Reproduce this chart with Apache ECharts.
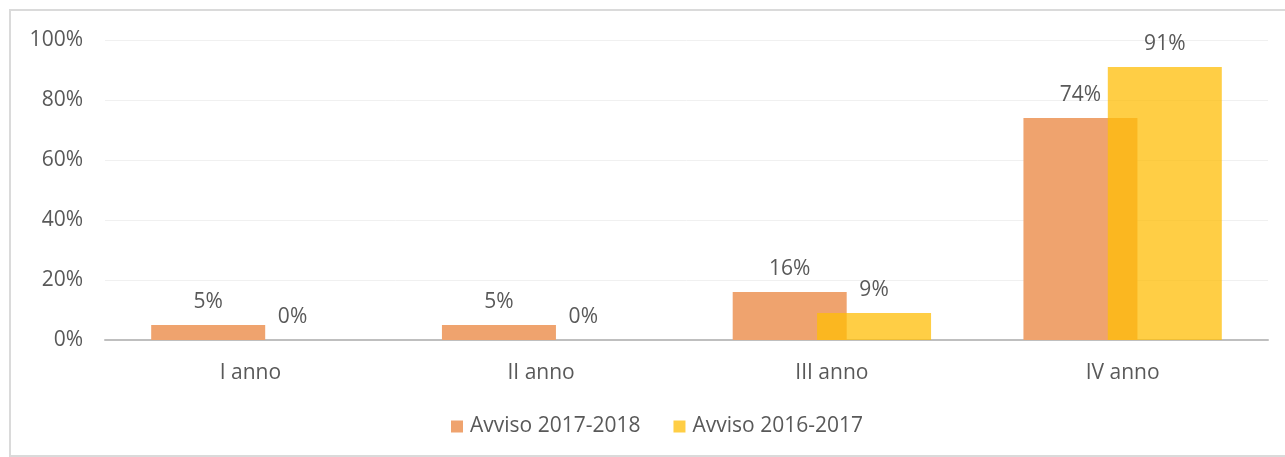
<!DOCTYPE html>
<html>
<head>
<meta charset="utf-8">
<script src="https://cdn.jsdelivr.net/npm/echarts@6/dist/echarts.min.js"></script>
<style>
  html, body { margin: 0; padding: 0; background: #ffffff; }
  #chart { position: absolute; left: 0; top: 0; width: 1285px; height: 457px; }
  #frame { position: absolute; left: 9px; top: 9px; width: 1300px; height: 444px;
           border: 2px solid #dadada; pointer-events: none; }
</style>
</head>
<body>
<div id="chart"></div>
<div id="frame"></div>
<script>
const categories = ['I anno', 'II anno', 'III anno', 'IV anno'];
const seriesNames = ['Avviso 2017-2018', 'Avviso 2016-2017'];
const avviso20172018 = [5, 5, 16, 74];
const avviso20162017 = [0, 0, 9, 91];
const yTicks = [0, 20, 40, 60, 80, 100];

const textColor = '#595959';
const fontFamily = '"Open Sans", "Noto Sans", sans-serif';
const fs = 21;

const chart = echarts.init(document.getElementById('chart'), null, { renderer: 'canvas' });
chart.setOption({
  animation: false,
  backgroundColor: '#ffffff',
  textStyle: { fontFamily: fontFamily },
  grid: { left: 105, right: 17, top: 40, bottom: 117, containLabel: false },
  legend: {
    data: seriesNames,
    left: 451,
    top: 416,
    padding: 0,
    itemWidth: 12,
    itemHeight: 12,
    itemGap: 33,
    icon: 'rect',
    textStyle: { color: textColor, fontSize: fs, fontFamily: fontFamily, padding: [0, 0, 0, 2] }
  },
  xAxis: {
    type: 'category',
    data: categories,
    axisTick: { show: false },
    axisLine: { lineStyle: { color: '#bfbfbf', width: 2 } },
    axisLabel: { color: textColor, fontSize: fs, margin: 23, fontFamily: fontFamily }
  },
  yAxis: {
    type: 'value',
    min: yTicks[0],
    max: yTicks[yTicks.length - 1],
    interval: yTicks[1] - yTicks[0],
    axisLine: { show: false },
    axisTick: { show: false },
    splitLine: { lineStyle: { color: '#f0f0f0', width: 1 } },
    axisLabel: { color: textColor, fontSize: fs, margin: 22, formatter: '{value}%', fontFamily: fontFamily }
  },
  series: [
    {
      name: seriesNames[0],
      type: 'bar',
      data: avviso20172018,
      barWidth: 114,
      barGap: '-26%',
      itemStyle: { color: '#efa36e' },
      label: { show: true, position: 'top', distance: 12, formatter: '{c}%', color: textColor, fontSize: fs, fontFamily: fontFamily }
    },
    {
      name: seriesNames[1],
      type: 'bar',
      data: avviso20162017,
      barWidth: 114,
      barGap: '-26%',
      itemStyle: { color: 'rgba(255,190,7,0.75)' },
      label: { show: true, position: 'top', distance: 12, formatter: '{c}%', color: textColor, fontSize: fs, fontFamily: fontFamily }
    }
  ]
});
</script>
</body>
</html>
